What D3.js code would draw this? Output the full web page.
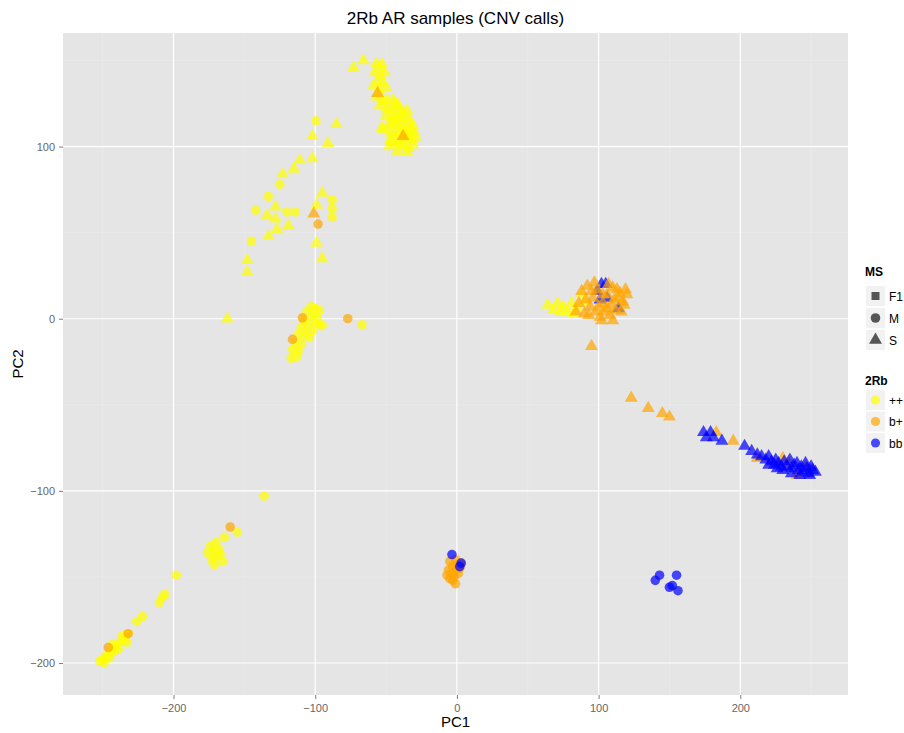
<!DOCTYPE html>
<html>
<head>
<meta charset="utf-8">
<script src="https://cdn.jsdelivr.net/npm/d3@7"></script>
<style>
  body { margin: 0; background: #fff; }
  svg text { font-family: "Liberation Sans", Arial, sans-serif; }
</style>
</head>
<body>
<div id="graph"></div>
<script>
// PC1 / PC2 values, grouped by 2Rb karyotype and MS
var ppS = [[-73,146],[-66,150],[-57,148],[-55,146],[-53,148],[-58,143],[-54,141],[-51,143],[-56,138],[-52,137],
  [-59,135],[-55,133],[-50,134],[-57,129],[-53,128],[-49,127],[-54,124],[-50,122],[-52,126],[-53,111],[-47,104],
  [-47,121],[-44,124],[-41,122],[-38,120],[-46,117],[-43,118],[-40,116],[-36,117],[-33,115],[-48,113],[-45,112],
  [-42,113],[-39,111],[-36,112],[-33,110],[-30,108],[-47,108],[-44,107],[-41,108],[-38,106],[-35,105],[-32,104],
  [-43,102],[-40,101],[-37,100],[-34,99],[-46,103],[-50,118],[-52,110],[-48,100],[-42,97],[-35,97],
  [-45,127],[-42,125],[-39,119],[-35,121],[-31,112],[-29,105],[-34,107],[-37,109],[-44,115],[-40,104],[-31,101],
  [-85,113],[-102,106],[-91,102],[-111,92],[-102,93],[-115,87],[-123,84],[-95,73],[-99,66],[-128,65],[-128,58],
  [-127,52],[-119,54],[-133,48],[-134,60],[-99,44],[-148,34],[-148,27],[-95,35],[-162,0],
  [64,8],[71,9],[75,7],[81,9],[88,14],[68,5],[78,4],[85,6],[90,10],[73,4],[82,3]];
var ppM = [[-99.5,115],[-125,78],[-133,71],[-88,69],[-88,64],[-88,59],[-142,63],[-120,62],[-145,45],[-114,62],
  [-103,7],[-100,6],[-97,5],[-106,4],[-102,2],[-99,1],[-108,-1],[-104,-2],[-99,-3],[-110,-5],[-106,-6],[-102,-7],
  [-112,-9],[-108,-10],[-104,-11],[-114,-14],[-110,-15],[-116,-18],[-112,-19],[-117,-23],[-113,-22],[-67,-3.5],
  [-97,-3],[-95,-4],
  [-136,-103],[-155,-124],[-164,-127],[-170,-130],[-174,-132],[-172,-135],[-168,-134],[-176,-136],[-170,-138],
  [-173,-140],[-167,-137],[-171,-143],[-165,-141],[-198,-149],[-206,-160],[-210,-165],[-208,-162],[-222,-173],
  [-226,-176],[-232,-183],[-235,-186],[-233,-188],[-238,-188],[-240,-190],[-242,-193],[-244,-192],[-246,-195],
  [-248,-196],[-250,-198],[-252,-199],[-249,-200],[-245,-197],[-239,-192],[-236,-184],[-243,-189]];
// bb triangles sitting inside the b+ cluster near (100, 10), drawn before it
var bbSmix = [[102,20],[105,20],[99,16],[101,11],[114,6],[106,12]];
var bpS = [[-56,131],[-38,106],[-101,61],
  [99,17],[103,9],[113,17],[92,19],[94,7],[101,1],[115,15],[96,12],[106,14],[109,8],[111,11],[98,4],[104,4],
  [108,2],[117,10],[120,14],[90,3],[86,9],[107,20],[95,16],[112,5],[100,7],[118,8],[95,-16],
  [88,16],[91,11],[97,21],[103,14],[110,18],[114,12],[119,17],[102,-1],[106,6],[110,-1],[84,4],[93,2],[116,4],
  [123,-46],[135,-52],[145,-55],[150,-57],[183,-66],[195,-71],[212,-81],[230,-81],[234,-84],[240,-91],[246,-86]];
var bpM = [[-109,0.5],[-116,-12],[-77,0],[-98,55],[-160,-121],[-246,-191],[-232,-183],
  [-5,-141],[-3,-144],[-1,-146],[-4,-148],[-2,-150],[-6,-146],[0,-143],[1,-148],[-3,-152],[-1,-154],[2,-145],
  [-5,-151],[3,-142],[-7,-149],[-1,-140]];
var bbS = [[174,-66],[179,-66],[176,-69],[181,-69],[187,-71],[203,-74],[208,-77],[212,-79],[215,-80],[218,-82],[220,-80],
  [222,-83],[225,-82],[224,-85],[227,-84],[229,-86],[231,-83],[233,-86],[235,-82],[236,-87],[238,-85],[240,-84],
  [241,-88],[243,-86],[244,-89],[246,-84],[247,-87],[248,-90],[250,-86],[251,-88],[253,-89],[236,-90],[230,-88],
  [226,-87],[220,-85],[242,-91],[249,-91]];
var bbM = [[-3.5,-137],[3,-142],[2,-144],[143,-149],[140,-152],[155,-149],[152,-155],[156,-158],[150,-156]];

var xTicks = [-200, -100, 0, 100, 200];
var yTicks = [-200, -100, 0, 100];
var msLevels = ["F1", "M", "S"];
var rbLevels = ["++", "b+", "bb"];
var rbColors = ["#ffff00", "#ffa500", "#0000ff"];

window.onload = start;

function start() {
  var width = 904, height = 733;
  var margin = {top: 33, right: 56, bottom: 38, left: 63};

  var svg = d3.select("#graph").append("svg")
      .attr("width", width)
      .attr("height", height);

  var x = d3.scaleLinear().domain([-278, 276]).range([margin.left, width - margin.right]);
  var y = d3.scaleLinear().domain([-218.6, 166]).range([height - margin.bottom, margin.top]);
  var colour = d3.scaleOrdinal().domain(rbLevels).range(rbColors);
  var shape = d3.scaleOrdinal().domain(msLevels).range([d3.symbolSquare, d3.symbolCircle, d3.symbolTriangle]);
  var size = d3.scaleOrdinal().domain(msLevels).range([64, 72, 72]);

  // panel
  svg.append("rect")
      .attr("x", margin.left).attr("y", margin.top)
      .attr("width", width - margin.left - margin.right)
      .attr("height", height - margin.top - margin.bottom)
      .attr("fill", "#e5e5e5");

  var xMinor = [-250, -150, -50, 50, 150, 250];
  var yMinor = [-150, -50, 50, 150];
  var grid = svg.append("g");
  grid.selectAll(".xm").data(xMinor).enter().append("line")
      .attr("x1", x).attr("x2", x).attr("y1", margin.top).attr("y2", height - margin.bottom)
      .attr("stroke", "#ededed").attr("stroke-width", 0.6);
  grid.selectAll(".ym").data(yMinor).enter().append("line")
      .attr("y1", y).attr("y2", y).attr("x1", margin.left).attr("x2", width - margin.right)
      .attr("stroke", "#ededed").attr("stroke-width", 0.6);
  grid.selectAll(".xg").data(xTicks).enter().append("line")
      .attr("x1", x).attr("x2", x).attr("y1", margin.top).attr("y2", height - margin.bottom)
      .attr("stroke", "#fff").attr("stroke-width", 1.2);
  grid.selectAll(".yg").data(yTicks).enter().append("line")
      .attr("y1", y).attr("y2", y).attr("x1", margin.left).attr("x2", width - margin.right)
      .attr("stroke", "#fff").attr("stroke-width", 1.2);

  // axes
  var xAxis = d3.axisBottom(x).tickValues(xTicks).tickSize(4).tickPadding(5);
  var yAxis = d3.axisLeft(y).tickValues(yTicks).tickSize(4).tickPadding(4);

  svg.append("g")
      .attr("transform", "translate(0," + (height - margin.bottom) + ")")
      .call(customAxis, xAxis);
  svg.append("g")
      .attr("transform", "translate(" + margin.left + ",0)")
      .call(customAxis, yAxis);

  function customAxis(g, axis) {
    g.call(axis);
    g.select(".domain").remove();
    g.selectAll(".tick line").attr("stroke", "#7f7f7f");
    g.selectAll(".tick text").attr("fill", "#666666").style("font-size", "11px")
      .style("font-family", "Liberation Sans, Arial, sans-serif");
  }

  // points
  var groups = [
    {rb: "++", ms: "S", pts: ppS}, {rb: "++", ms: "M", pts: ppM},
    {rb: "bb", ms: "S", pts: bbSmix},
    {rb: "b+", ms: "S", pts: bpS}, {rb: "b+", ms: "M", pts: bpM},
    {rb: "bb", ms: "S", pts: bbS}, {rb: "bb", ms: "M", pts: bbM}
  ];
  var pts = svg.append("g");
  groups.forEach(function(gr) {
    pts.selectAll(null).data(gr.pts).enter().append("path")
      .attr("d", d3.symbol().type(shape(gr.ms)).size(size(gr.ms)))
      .attr("transform", function(d) { return "translate(" + x(d[0]) + "," + y(d[1]) + ")"; })
      .attr("fill", colour(gr.rb))
      .attr("fill-opacity", 0.7);
  });

  // titles
  svg.append("text")
      .attr("x", (margin.left + width - margin.right) / 2).attr("y", 24)
      .attr("text-anchor", "middle").style("font-size", "17px")
      .text("2Rb AR samples (CNV calls)");
  svg.append("text")
      .attr("x", (margin.left + width - margin.right) / 2).attr("y", 727)
      .attr("text-anchor", "middle").style("font-size", "15px")
      .text("PC1");
  svg.append("text")
      .attr("transform", "translate(23," + ((margin.top + height - margin.bottom) / 2) + ") rotate(-90)")
      .attr("text-anchor", "middle").style("font-size", "15px")
      .text("PC2");

  // legends
  var lx = 865;
  var leg = svg.append("g");
  leg.append("text").attr("x", lx).attr("y", 276).style("font-size", "12px").style("font-weight", "bold").text("MS");
  msLevels.forEach(function(m, i) {
    var cy = 296 + i * 22;
    leg.append("rect").attr("x", lx + 1).attr("y", cy - 10).attr("width", 19).attr("height", 20).attr("fill", "#f2f2f2");
    leg.append("path")
      .attr("d", d3.symbol().type(shape(m)).size(size(m))())
      .attr("transform", "translate(" + (lx + 10.5) + "," + cy + ")")
      .attr("fill", "#555");
    leg.append("text").attr("x", lx + 24).attr("y", cy + 4.5).style("font-size", "12px").text(m);
  });
  leg.append("text").attr("x", lx).attr("y", 385).style("font-size", "12px").style("font-weight", "bold").text("2Rb");
  rbLevels.forEach(function(r, i) {
    var cy = 400 + i * 21.5;
    leg.append("rect").attr("x", lx + 1).attr("y", cy - 10).attr("width", 19).attr("height", 20).attr("fill", "#f2f2f2");
    leg.append("path")
      .attr("d", d3.symbol().type(d3.symbolCircle).size(66)())
      .attr("transform", "translate(" + (lx + 10.5) + "," + cy + ")")
      .attr("fill", colour(r)).attr("fill-opacity", 0.7);
    leg.append("text").attr("x", lx + 24).attr("y", cy + 4.5).style("font-size", "12px").text(r);
  });
}
</script>
</body>
</html>
